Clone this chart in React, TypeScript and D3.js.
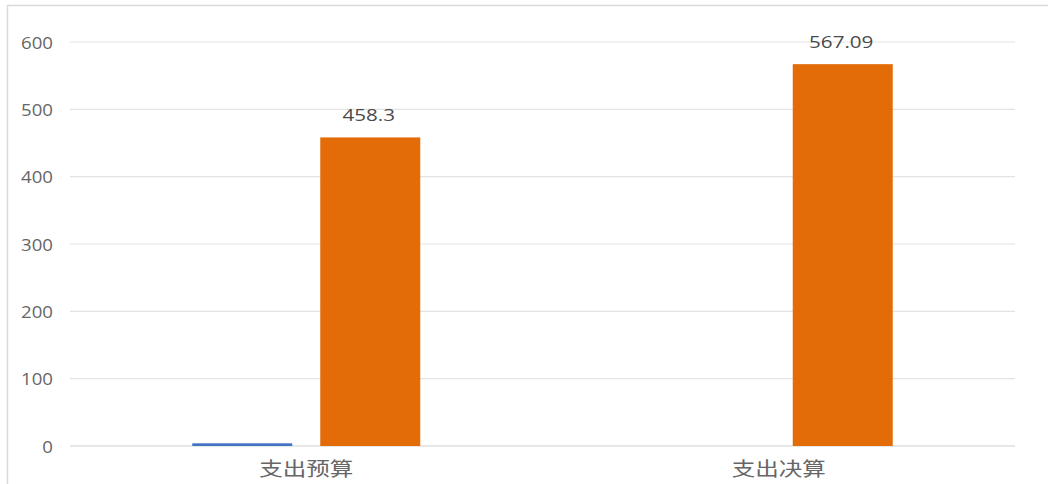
import React from "react";
import * as d3 from "d3";

const categories = ["支出预算", "支出决算"];
const seriesNames = ["系列1", "系列2"];
const series1: (number | null)[] = [4, null];
const series2: number[] = [458.3, 567.09];
const yTicks = [0, 100, 200, 300, 400, 500, 600];

const W = 1048;
const H = 484;
const plot = { left: 70, right: 1015, top: 42, bottom: 446 };
const colors = ["#4472C4", "#E36C09"];
const FONT = "'Open Sans', 'Noto Sans', sans-serif";
const CJK = "'Noto Sans CJK SC', sans-serif";
const barW = 100;
const barGap = 28;

export default function App() {
  const x = d3.scaleBand<string>().domain(categories).range([plot.left, plot.right]).paddingInner(0).paddingOuter(0);
  const y = d3.scaleLinear().domain([0, 600]).range([plot.bottom, plot.top]);
  const groupW = seriesNames.length * barW + (seriesNames.length - 1) * barGap;
  const inner = d3.scaleOrdinal<string, number>().domain(seriesNames).range(seriesNames.map((_, i) => i * (barW + barGap)));
  const groupOffset = (x.bandwidth() - groupW) / 2;

  const allSeries = [series1, series2];

  return (
    <div style={{ position: "absolute", left: 0, top: 0, width: W, height: H, background: "#fff" }}>
      <svg width={W} height={H} style={{ display: "block" }}>
        <rect x={0} y={0} width={W} height={H} fill="#fff" />
        <line x1={7} x2={W} y1={5.5} y2={5.5} stroke="#d9d9d9" strokeWidth={1.5} />
        <line x1={7.5} x2={7.5} y1={5} y2={H} stroke="#d9d9d9" strokeWidth={1.5} />
        {yTicks.map((t) => (
          <line key={t} x1={plot.left} x2={plot.right} y1={y(t)} y2={y(t)} stroke={t === 0 ? "#d0d0d0" : "#e3e3e3"} strokeWidth={1.2} />
        ))}
        {yTicks.map((t) => (
          <text
            key={"l" + t}
            transform={`translate(53,${y(t) + 6.5}) scale(1.13,1)`}
            textAnchor="end"
            fontFamily={FONT}
            fontSize={16.5}
            fill="#666666"
          >
            {t}
          </text>
        ))}
        {allSeries.map((vals, si) =>
          categories.map((c, ci) => {
            const v = vals[ci];
            if (v == null) return null;
            const bx = (x(c) as number) + groupOffset + inner(seriesNames[si]);
            return (
              <rect
                key={si + "-" + ci}
                x={bx}
                y={y(v)}
                width={barW}
                height={plot.bottom - y(v)}
                fill={colors[si]}
              />
            );
          })
        )}
        {categories.map((c, ci) => {
          const v = series2[ci];
          const bx = (x(c) as number) + groupOffset + inner(seriesNames[1]) + barW / 2;
          return (
            <text
              key={"d" + ci}
              transform={`translate(${bx - 1.5},${y(v) - 16}) scale(1.25,1)`}
              textAnchor="middle"
              fontFamily={FONT}
              fontSize={16.5}
              fill="#4a4a4a"
            >
              {v}
            </text>
          );
        })}
        {categories.map((c) => (
          <text
            key={"c" + c}
            transform={`translate(${(x(c) as number) + x.bandwidth() / 2},${476}) scale(1.24,1)`}
            textAnchor="middle"
            fontFamily={CJK}
            fontSize={19}
            fill="#666666"
          >
            {c}
          </text>
        ))}
      </svg>
    </div>
  );
}
